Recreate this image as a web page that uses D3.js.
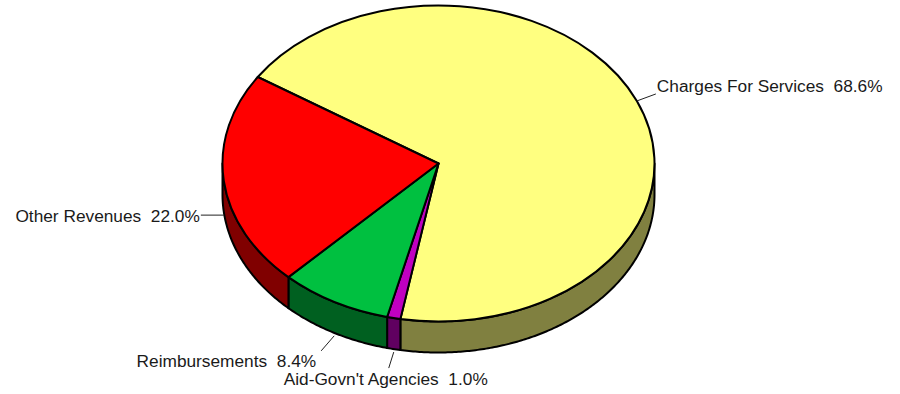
<!DOCTYPE html>
<html>
<head>
<meta charset="utf-8">
<script src="https://cdn.jsdelivr.net/npm/d3@7/dist/d3.min.js"></script>
<style>
  html, body { margin: 0; padding: 0; background: #fff; }
  svg { display: block; }
  text { font-family: "Liberation Sans", Arial, sans-serif; font-size: 17.3px; fill: #1a1a1a; white-space: pre; }
</style>
</head>
<body>
<svg id="chart" width="900" height="394"></svg>
<script>
// Revenue shares, in drawing order (clockwise)
const categories = ["Charges For Services", "Aid-Govn't Agencies", "Reimbursements", "Other Revenues"];
const shares = [68.6, 1.0, 8.4, 22.0];
const topColors = ["#FFFF80", "#C000C0", "#00C040", "#FF0000"];
const sideColors = ["#808040", "#600060", "#006020", "#800000"];

// Pie geometry
const cx = 438.5, cy = 163.5, rx = 216, ry = 158, depth = 31;
const startDeg = -56.8;

// Leader end offsets (from the anchor on the rim) and text placement
const labelLayout = [
  { dx: 19, dy: -7, tx: 1, ty: -2, anchor: "start" },
  { dx: -5, dy: 16, tx: -3, ty: 17, anchor: "middle" },
  { dx: -13, dy: 15, tx: -5, ty: 16, anchor: "end" },
  { dx: -23, dy: 0, tx: -1, ty: 7, anchor: "end" }
];

const svg = d3.select("#chart");

const pie = d3.pie().sort(null).value(d => d)
  .startAngle(startDeg * Math.PI / 180)
  .endAngle(startDeg * Math.PI / 180 + 2 * Math.PI);
const arcs = pie(shares);

// point on the ellipse rim for angle a (0 = 12 o'clock, clockwise)
const rim = (a, off = 0) => [cx + rx * Math.sin(a), cy - ry * Math.cos(a) + off];

const line = d3.line();

// Visible front wall: angles between 90deg and 270deg
const frontLo = Math.PI / 2, frontHi = 3 * Math.PI / 2;
const norm = a => { const t = 2 * Math.PI; return ((a % t) + t) % t; };

const sides = svg.append("g");
arcs.forEach((d, i) => {
  // normalise the slice range into [0, 2pi) segments
  let a0 = norm(d.startAngle), a1 = a0 + (d.endAngle - d.startAngle);
  const segs = [[a0, a1], [a0 - 2 * Math.PI, a1 - 2 * Math.PI], [a0 + 2 * Math.PI, a1 + 2 * Math.PI]];
  segs.forEach(([s, e]) => {
    const lo = Math.max(s, frontLo), hi = Math.min(e, frontHi);
    if (hi <= lo) return;
    const n = Math.max(4, Math.ceil((hi - lo) / 0.01));
    const angs = d3.range(n + 1).map(k => lo + (hi - lo) * k / n);
    const pts = angs.map(a => rim(a)).concat(angs.slice().reverse().map(a => rim(a, depth)));
    sides.append("path")
      .attr("d", line(pts) + "Z")
      .attr("fill", sideColors[i])
      .attr("stroke", "#000")
      .attr("stroke-width", 2)
      .attr("stroke-linejoin", "round");
  });
});

// Top faces: circular arcs squashed into the ellipse
const arcGen = d3.arc().innerRadius(0).outerRadius(rx);
svg.append("g")
  .attr("transform", `translate(${cx},${cy}) scale(1,${ry / rx})`)
  .selectAll("path")
  .data(arcs)
  .join("path")
  .attr("d", arcGen)
  .attr("fill", (d, i) => topColors[i])
  .attr("stroke", "#000")
  .attr("stroke-width", 2)
  .attr("stroke-linejoin", "round")
  .attr("vector-effect", "non-scaling-stroke");

// Labels with leader lines
const labels = svg.append("g");
arcs.forEach((d, i) => {
  const mid = (d.startAngle + d.endAngle) / 2;
  const m = norm(mid);
  const front = m > frontLo && m < frontHi && Math.abs(Math.cos(m)) > 0.05;
  const [ax, ay] = rim(mid, front ? depth + 3 : 0);
  const L = labelLayout[i];
  const ex = ax + L.dx, ey = ay + L.dy;
  labels.append("line")
    .attr("x1", ax).attr("y1", ay).attr("x2", ex).attr("y2", ey)
    .attr("stroke", "#222").attr("stroke-width", 1);
  labels.append("text")
    .attr("x", ex + L.tx).attr("y", ey + L.ty)
    .attr("text-anchor", L.anchor)
    .text(`${categories[i]}  ${shares[i].toFixed(1)}%`);
});
</script>
</body>
</html>
